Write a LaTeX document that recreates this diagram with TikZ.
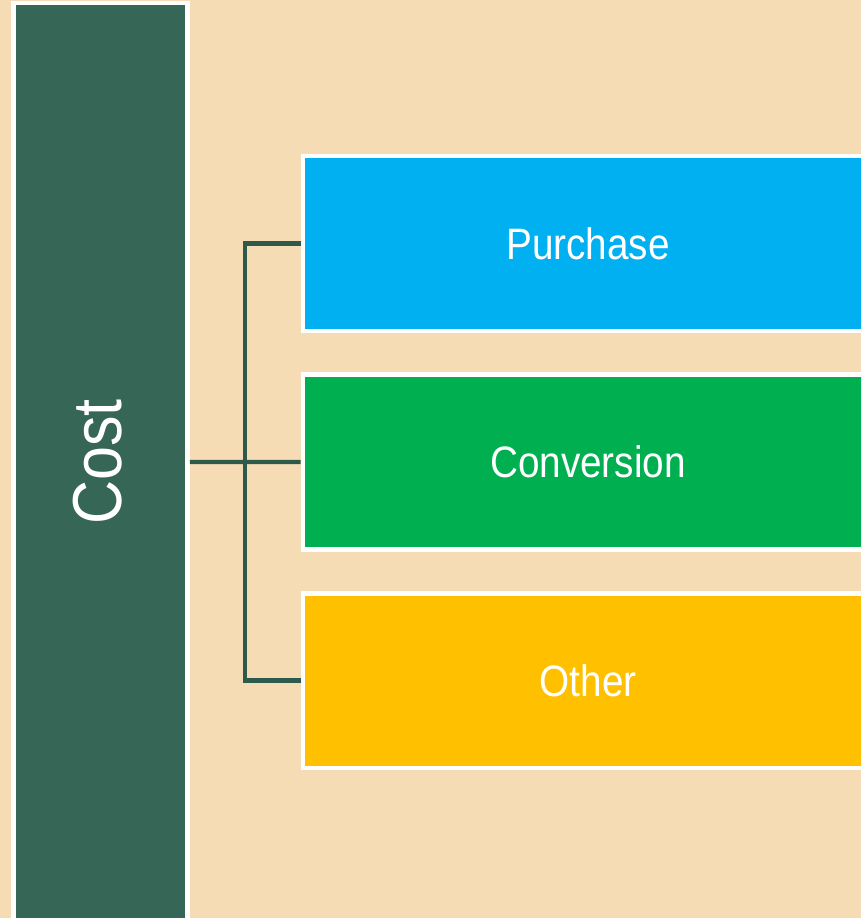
\documentclass[tikz,border=0pt]{standalone}
\usepackage{fontspec}
\setmainfont{Liberation Sans}[FakeStretch=0.88]
\usetikzlibrary{positioning}
\definecolor{paper}{HTML}{F5DCB5}
\definecolor{costgreen}{HTML}{366656}
\definecolor{linkgreen}{HTML}{2E5A4B}
\definecolor{purchaseblue}{HTML}{00B0F0}
\definecolor{conversiongreen}{HTML}{00B050}
\definecolor{otheryellow}{HTML}{FFC000}
\tikzset{every text node part/.style={align=center}}
\tikzset{
  costbar/.style={draw=white, line width=3.4pt, fill=costgreen, text=white,
    minimum width=130.8pt, minimum height=688.5pt, inner sep=0pt},
  part/.style={draw=white, line width=3.4pt, text=white, inner sep=0pt,
    minimum width=427.5pt, minimum height=131pt,
    font=\fontsize{33}{40}\selectfont},
  link/.style={draw=linkgreen, line width=3.3pt}
}

\begin{document}
\begin{tikzpicture}[x=0.75pt, y=-0.75pt]

% Page
\fill[paper] (0,0) rectangle (861,918);
\clip (0,0) rectangle (861,918);

% Cost bar
\node[costbar] (cost) at (100.5,462) {};
\node[text=white, rotate=90, font=\fontsize{52}{62}\selectfont] (costlabel) at (98,462) {Cost};

% Parts of cost
\node[part, fill=purchaseblue] (purchase) at (588,243.5) {Purchase};
\node[part, fill=conversiongreen, below=29.5pt of purchase] (conversion) {Conversion};
\node[part, fill=otheryellow, below=29.5pt of conversion] (other) {Other};

% Links
\draw[link] (cost.east) -- (conversion.west);
\draw[link] (purchase.west) -- ++(-56,0) |- (other.west);

\end{tikzpicture}
\end{document}
